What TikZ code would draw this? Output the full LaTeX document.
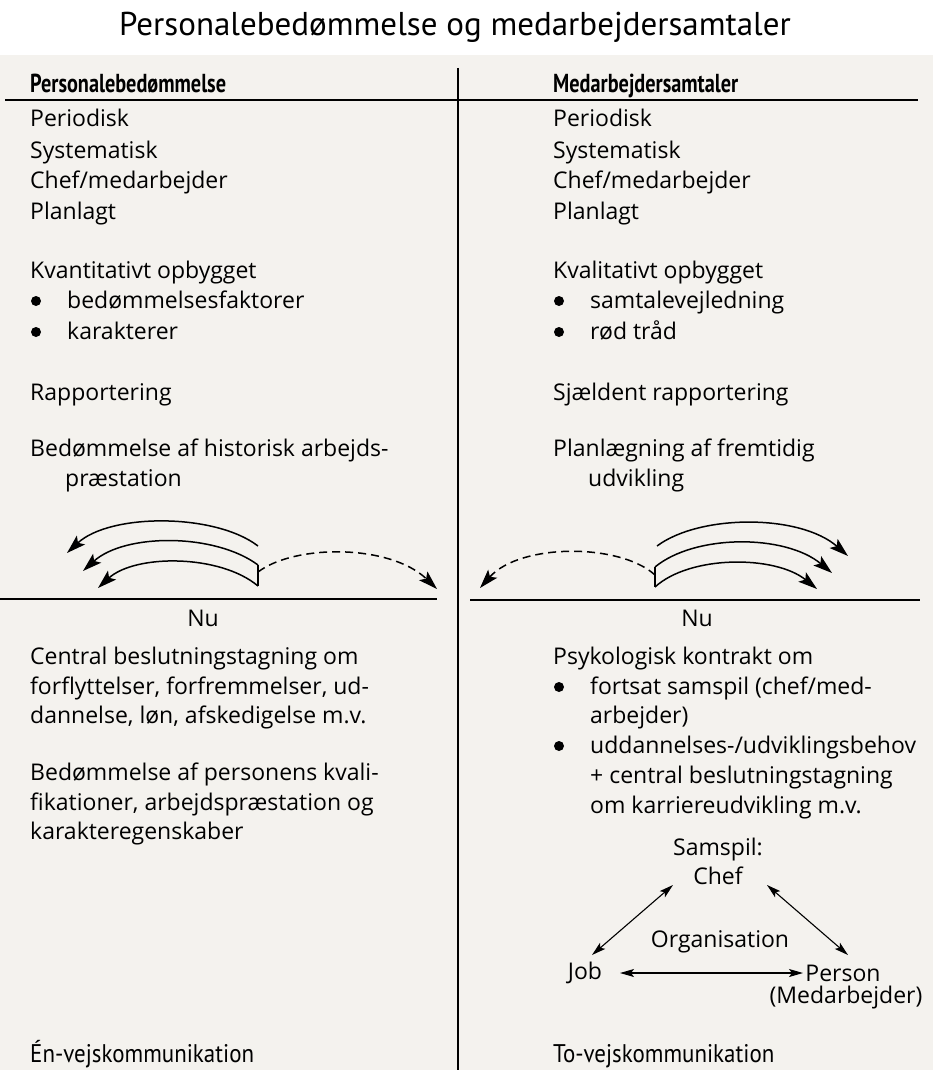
\documentclass[tikz,border=0pt]{standalone}
\usepackage{fontspec}
\setmainfont{Open Sans}
\newfontfamily\condfont[FakeStretch=0.9]{PT Sans}
\newfontfamily\hdfam[FakeStretch=0.78]{PT Sans}
\newfontfamily\ttlfam{PT Sans}
\usetikzlibrary{arrows.meta}

\newcommand{\txtfont}{\fontsize{23}{27}\selectfont}
\newcommand{\hdfont}{\hdfam\bfseries\fontsize{26}{30}\selectfont}
\newcommand{\botfont}{\condfont\fontsize{25.5}{28}\selectfont}
\newcommand{\ttlfont}{\ttlfam\fontsize{33}{36}\selectfont}

\definecolor{paper}{RGB}{244,242,238}

\tikzset{
    txt/.style={anchor=base west, inner sep=0pt, font=\txtfont},
    hdr/.style={anchor=base west, inner sep=0pt, font=\hdfont},
    bot/.style={anchor=base west, inner sep=0pt, font=\botfont},
    lbl/.style={inner sep=0pt, font=\txtfont},
    dot/.style={circle, fill, inner sep=0pt, minimum size=10pt},
    rule/.style={line width=1.8pt},
    arc/.style={line width=1.5pt, -{Stealth[length=19pt, width=12pt, inset=4pt]}},
    dasharc/.style={arc, dash pattern=on 8pt off 5pt},
    dbl/.style={line width=1.1pt, {Stealth[length=14pt, width=8pt, inset=3pt]}-{Stealth[length=14pt, width=8pt, inset=3pt]}}
}

\begin{document}
\begin{tikzpicture}[x=1pt, y=-1pt]
    \useasboundingbox (0,0) rectangle (933,1070);
    \fill[paper] (0,55) rectangle (933,1070);

    %Title and headers
    \node[inner sep=0pt, font=\ttlfont] (title) at (455,27) {Personalebedømmelse og medarbejdersamtaler};
    \node[hdr] (hl) at (30,93) {Personalebedømmelse};
    \node[hdr] (hr) at (553,93) {Medarbejdersamtaler};

    %Rules
    \draw[rule] (5,100) -- (918,100);
    \draw[rule] (458,68) -- (458,1070);
    \draw[rule] (0,599) -- (437,599);
    \draw[rule] (470,600) -- (920,600);

    %Left column, upper part
    \node[txt] (l1) at (30,127) {Periodisk};
    \node[txt] (l2) at (30,158) {Systematisk};
    \node[txt] (l3) at (30,188) {Chef/medarbejder};
    \node[txt] (l4) at (30,219) {Planlagt};
    \node[txt] (l5) at (30,278) {Kvantitativt opbygget};
    \node[dot] (ld1) at (36,301) {};
    \node[txt] (l6) at (67,308) {bedømmelsesfaktorer};
    \node[dot] (ld2) at (36,332) {};
    \node[txt] (l7) at (67,339) {karakterer};
    \node[txt] (l8) at (30,400) {Rapportering};
    \node[txt] (l9) at (30,456) {Bedømmelse af historisk arbejds-};
    \node[txt] (l10) at (65,486) {præstation};

    %Right column, upper part
    \node[txt] (r1) at (553,127) {Periodisk};
    \node[txt] (r2) at (553,158) {Systematisk};
    \node[txt] (r3) at (553,188) {Chef/medarbejder};
    \node[txt] (r4) at (553,219) {Planlagt};
    \node[txt] (r5) at (553,278) {Kvalitativt opbygget};
    \node[dot] (rd1) at (559,301) {};
    \node[txt] (r6) at (590,308) {samtalevejledning};
    \node[dot] (rd2) at (559,332) {};
    \node[txt] (r7) at (590,339) {rød tråd};
    \node[txt] (r8) at (553,400) {Sjældent rapportering};
    \node[txt] (r9) at (553,456) {Planlægning af fremtidig};
    \node[txt] (r10) at (588,486) {udvikling};

    %Time arrows, left
    \draw[arc] (258,546) .. controls (215,513) and (110,513) .. (67,553);
    \draw[arc] (258,565) .. controls (215,533) and (125,533) .. (83,571);
    \draw[arc] (258,586) .. controls (220,554) and (135,554) .. (98,588);
    \draw[line width=1.5pt] (258,565) -- (258,586);
    \draw[dasharc] (258,572) .. controls (295,544) and (390,544) .. (437,589);

    %Time arrows, right
    \draw[arc] (657,546) .. controls (700,514) and (800,514) .. (848,556);
    \draw[arc] (655,567) .. controls (695,534) and (785,534) .. (832,573);
    \draw[arc] (655,587) .. controls (690,555) and (775,555) .. (817,589);
    \draw[line width=1.5pt] (655,567) -- (655,587);
    \draw[dasharc] (655,575) .. controls (620,543) and (520,543) .. (480,588);

    \node[txt, anchor=base] (nul) at (203,626) {Nu};
    \node[txt, anchor=base] (nur) at (697,626) {Nu};

    %Left column, lower part
    \node[txt] (l11) at (30,664) {Central beslutningstagning om};
    \node[txt] (l12) at (30,694) {forflyttelser, forfremmelser, ud-};
    \node[txt] (l13) at (30,723) {dannelse, løn, afskedigelse m.v.};
    \node[txt] (l14) at (30,780) {Bedømmelse af personens kvali-};
    \node[txt] (l15) at (30,810) {fikationer, arbejdspræstation og};
    \node[txt] (l16) at (30,839) {karakteregenskaber};

    %Right column, lower part
    \node[txt] (r11) at (553,664) {Psykologisk kontrakt om};
    \node[dot] (rd3) at (559,687) {};
    \node[txt] (r12) at (590,694) {fortsat samspil (chef/med-};
    \node[txt] (r13) at (590,723) {arbejder)};
    \node[dot] (rd4) at (559,746) {};
    \node[txt] (r14) at (590,753) {uddannelses-/udviklingsbehov};
    \node[txt] (r15) at (590,783) {+ central beslutningstagning};
    \node[txt] (r16) at (590,813) {om karriereudvikling m.v.};

    %Triangle
    \node[lbl] (sam) at (718,850) {Samspil:};
    \node[lbl] (chef) at (718,876) {Chef};
    \node[lbl] (org) at (720,942) {Organisation};
    \node[lbl] (job) at (585,973) {Job};
    \node[lbl] (pers) at (843,973) {Person};
    \node[lbl] (medarb) at (846,998) {(Medarbejder)};

    \draw[dbl] ([shift={(7,-18)}]job.center) -- ([shift={(-45,9)}]chef.center);
    \draw[dbl] ([shift={(49,9)}]chef.center) -- ([shift={(5,-18)}]pers.center);
    \draw[dbl] ([shift={(35,0)}]job.center) -- ([shift={(-40,0)}]pers.center);

    %Bottom
    \node[bot] (ll) at (30,1062) {Én-vejskommunikation};
    \node[bot] (rl) at (553,1062) {To-vejskommunikation};

\end{tikzpicture}
\end{document}
